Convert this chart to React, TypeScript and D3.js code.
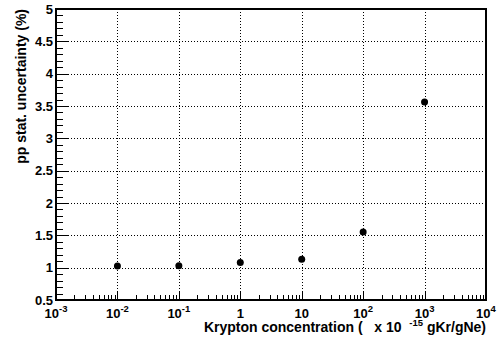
import React, { useEffect, useRef } from "react";
import * as d3 from "d3";

// Krypton concentration (×10^-15 gKr/gNe) and pp statistical uncertainty (%)
const concentrations = [1e-2, 1e-1, 1, 10, 1e2, 1e3];
const uncertainties = [1.026, 1.03, 1.08, 1.13, 1.55, 3.56];

const xDomain: [number, number] = [1e-3, 1e4];
const yDomain: [number, number] = [0.5, 5];
const yMajorTicks = [0.5, 1, 1.5, 2, 2.5, 3, 3.5, 4, 4.5, 5];
const xDecades = [-3, -2, -1, 0, 1, 2, 3, 4];

const W = 499;
const H = 343;
const M = { left: 56, top: 9, right: 13, bottom: 43 };
const FONT = "'Liberation Sans', Arial, Helvetica, sans-serif";
const FS = 13;
const TITLE_FS = 14;
const SUP = 9.5;
const NB = "\u00A0";

export default function App() {
  const ref = useRef<SVGSVGElement>(null);

  useEffect(() => {
    const svg = d3.select(ref.current);
    svg.selectAll("*").remove();
    const x0 = M.left, x1 = W - M.right, y0 = H - M.bottom, y1 = M.top;
    const x = d3.scaleLog().domain(xDomain).range([x0, x1]);
    const y = d3.scaleLinear().domain(yDomain).range([y0, y1]);

    svg.append("rect").attr("width", W).attr("height", H).attr("fill", "#fff");

    const g = svg.append("g");

    // dotted grid at the major ticks
    const grid = g.append("g").attr("stroke", "#000").attr("stroke-width", 1)
      .attr("stroke-dasharray", "1,2").attr("shape-rendering", "crispEdges");
    xDecades.slice(1, -1).forEach((d) => {
      const px = Math.round(x(Math.pow(10, d))) + 0.5;
      grid.append("line").attr("x1", px).attr("x2", px).attr("y1", y1).attr("y2", y0);
    });
    yMajorTicks.slice(1, -1).forEach((v) => {
      const py = Math.round(y(v)) + 0.5;
      grid.append("line").attr("x1", x0).attr("x2", x1).attr("y1", py).attr("y2", py);
    });

    // inward ticks
    const ticks = g.append("g").attr("stroke", "#000").attr("stroke-width", 1)
      .attr("shape-rendering", "crispEdges");
    for (let i = 0; i <= 45; i++) {
      const v = 0.5 + i * 0.1;
      const major = i % 5 === 0;
      const py = Math.round(y(v)) + 0.5;
      ticks.append("line").attr("x1", x0).attr("x2", x0 + (major ? 12 : 7))
        .attr("y1", py).attr("y2", py);
    }
    xDecades.slice(0, -1).forEach((d) => {
      for (let k = 1; k <= 9; k++) {
        const px = Math.round(x(k * Math.pow(10, d))) + 0.5;
        ticks.append("line").attr("x1", px).attr("x2", px)
          .attr("y1", y0).attr("y2", y0 - (k === 1 ? 9 : 5));
      }
    });

    // frame
    g.append("rect").attr("x", x0).attr("y", y1).attr("width", x1 - x0).attr("height", y0 - y1)
      .attr("fill", "none").attr("stroke", "#000").attr("stroke-width", 2);

    const labels = g.append("g")
      .style("font-family", FONT).style("font-weight", "bold")
      .style("font-size", `${FS}px`).style("fill", "#000");

    // y tick labels
    yMajorTicks.forEach((v) => {
      labels.append("text").attr("x", x0 - 3).attr("y", y(v) + 4.5)
        .attr("text-anchor", "end").text(d3.format("")(v));
    });

    // x tick labels
    xDecades.forEach((d) => {
      const px = x(Math.pow(10, d));
      const t = labels.append("text").attr("x", px).attr("y", y0 + 17.5).attr("text-anchor", "middle");
      if (d === 0) t.text("1");
      else if (d === 1) t.text("10");
      else {
        t.append("tspan").text("10");
        t.append("tspan").attr("dy", -6).style("font-size", `${SUP}px`).text(String(d));
      }
    });

    // axis titles
    const xt = labels.append("text").attr("x", x1).attr("y", y0 + 31.5)
      .attr("text-anchor", "end").style("font-size", `${TITLE_FS}px`);
    xt.append("tspan").text(`Krypton concentration (${NB}${NB}${NB}x 10${NB}${NB}`);
    xt.append("tspan").attr("dy", -6).style("font-size", `${SUP}px`).text("-15");
    xt.append("tspan").attr("dy", 6).text(`${NB}gKr/gNe)`);

    labels.append("text").attr("transform", `translate(26,${y1}) rotate(-90)`)
      .attr("text-anchor", "end").style("font-size", `${TITLE_FS}px`)
      .text("pp stat. uncertainty (%)");

    // markers
    g.append("g").selectAll("circle").data(concentrations).join("circle")
      .attr("cx", (d) => x(d)).attr("cy", (_, i) => y(uncertainties[i]))
      .attr("r", 3.5).attr("fill", "#000");
  }, []);

  return <svg ref={ref} width={W} height={H} style={{ display: "block", position: "absolute", left: 0, top: 0 }} />;
}
